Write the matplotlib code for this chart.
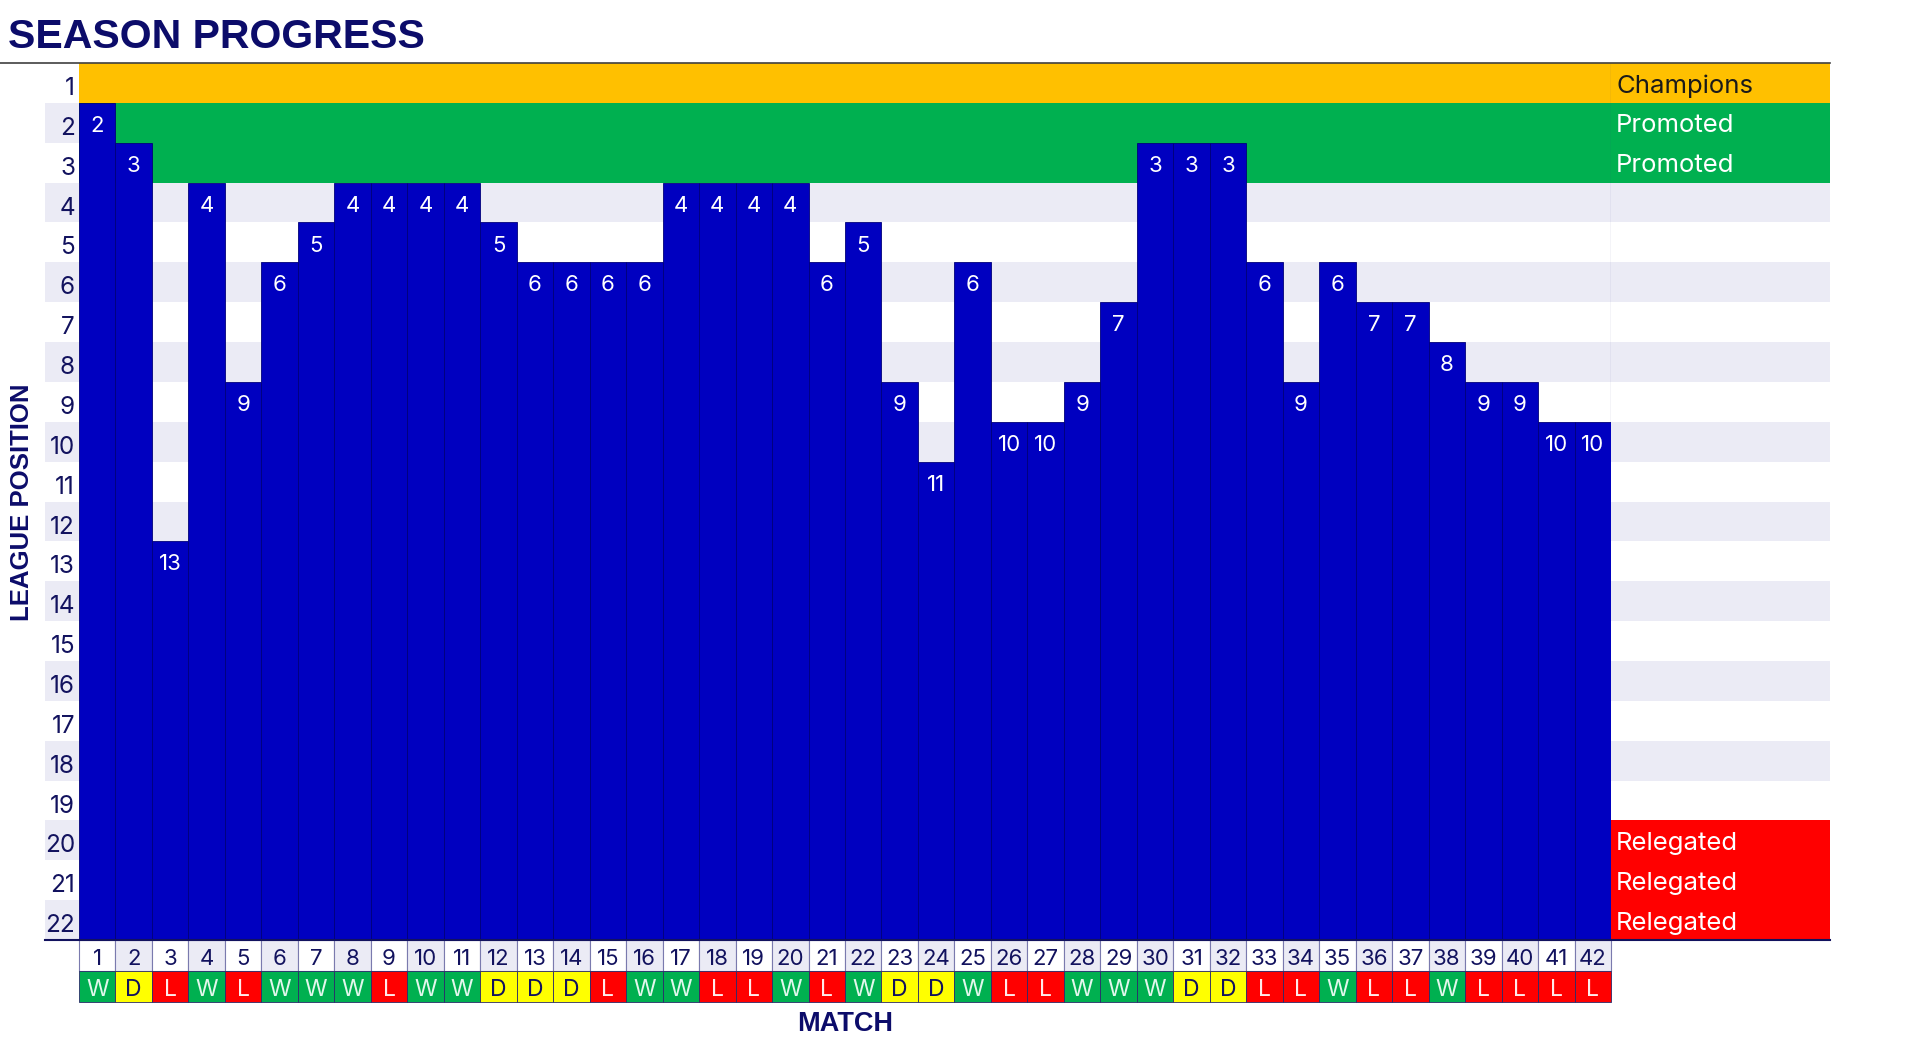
import matplotlib
matplotlib.use('Agg')
import matplotlib.pyplot as plt
import matplotlib.transforms as mtransforms
import numpy as np

# league position after each match
matches = list(range(1, 43))
positions = [2, 3, 13, 4, 9, 6, 5, 4, 4, 4, 4, 5, 6, 6, 6, 6, 4, 4, 4, 4, 6,
             5, 9, 11, 6, 10, 10, 9, 7, 3, 3, 3, 6, 9, 6, 7, 7, 8, 9, 9, 10, 10]
results = ['W', 'D', 'L', 'W', 'L', 'W', 'W', 'W', 'L', 'W', 'W', 'D', 'D', 'D',
           'L', 'W', 'W', 'L', 'L', 'W', 'L', 'W', 'D', 'D', 'W', 'L', 'L', 'W',
           'W', 'W', 'D', 'D', 'L', 'L', 'W', 'L', 'L', 'W', 'L', 'L', 'L', 'L']
n_teams = 22
zone_labels = {1: 'Champions', 2: 'Promoted', 3: 'Promoted',
               20: 'Relegated', 21: 'Relegated', 22: 'Relegated'}

NAVY = '#12125E'
BAR = '#0000C0'
LAV = '#EBEBF5'
GOLD = '#FFC000'
GREEN = '#00B050'
RED = '#FF0000'
YELLOW = '#FFFF00'
res_col = {'W': GREEN, 'D': YELLOW, 'L': RED}
res_txt = {'W': '#E2F7EC', 'D': NAVY, 'L': '#FFEAEA'}

plt.rcParams['font.family'] = ['Inter', 'DejaVu Sans']

W, H = 1919, 1041
fig = plt.figure(figsize=(W / 100, H / 100), dpi=100)
fig.patch.set_facecolor('white')
ax = fig.add_axes([79 / W, 1 - 940 / H, (1611 - 79) / W, (940 - 63) / H])
ax.set_xlim(0.5, 42.5)
ax.set_ylim(n_teams + 0.5, 0.5)
ax.patch.set_visible(False)

x_left = 0.5 - (79 - 45) / 36.48
x_right = 42.5 + (1830 - 1611) / 36.48
rows = np.arange(1, n_teams + 1)
dy = 0.08  # small downward nudge for text

# background stripes
for r in rows:
    if r == 1:
        ax.barh(r, x_right - 0.5, left=0.5, height=1, color=GOLD, clip_on=False, zorder=0)
    elif r in (2, 3):
        ax.barh(r, x_right - 0.5, left=0.5, height=1, color=GREEN, clip_on=False, zorder=0)
        if r % 2 == 0:
            ax.barh(r, 0.5 - x_left, left=x_left, height=1, color=LAV, clip_on=False, zorder=0)
    elif r >= 20:
        ax.barh(r, x_right - 42.5, left=42.5, height=1, color=RED, clip_on=False, zorder=0)
        if r % 2 == 0:
            ax.barh(r, 42.5 - x_left, left=x_left, height=1, color=LAV, clip_on=False, zorder=0)
    elif r % 2 == 0:
        ax.barh(r, x_right - x_left, left=x_left, height=1, color=LAV, clip_on=False, zorder=0)

# position bars
pos = np.array(positions)
ax.bar(matches, n_teams + 0.5 - (pos - 0.5), bottom=pos - 0.5, width=1,
       color=BAR, edgecolor='#00007A', linewidth=0.6, zorder=2)
for m, p in zip(matches, positions):
    ax.text(m, p + dy, str(p), ha='center', va='center', color='white', fontsize=16, zorder=3)

# zone labels
for r, lab in zone_labels.items():
    ax.text(42.5 + 0.14, r + dy, lab, ha='left', va='center', fontsize=18.5,
            color='#1A1A1A' if lab == 'Champions' else 'white', zorder=3)
ax.plot([42.5, 42.5], [0.5, 19.5], color='#3A3A8A', lw=0.8, zorder=1)

# row numbers on the left
lab_tr = ax.transData + mtransforms.ScaledTranslation(-4 / 100, 0, fig.dpi_scale_trans)
for r in rows:
    ax.text(0.5, r + 0.14, str(r), ha='right', va='center', fontsize=17.5,
            color=NAVY, transform=lab_tr, clip_on=False, zorder=3)

# match number and result rows
h1 = 0.775
h2 = 0.78
num_bg = ['white' if m % 2 else LAV for m in matches]
ax.bar(matches, h1, bottom=n_teams + 0.5, width=1, color=num_bg,
       edgecolor='#7A7AAE', linewidth=0.8, clip_on=False, zorder=2)
ax.bar(matches, h2, bottom=n_teams + 0.5 + h1, width=1, color=[res_col[r] for r in results],
       edgecolor='#2B2B6B', linewidth=0.6, clip_on=False, zorder=2)
for m, r in zip(matches, results):
    ax.text(m, n_teams + 0.5 + h1 / 2 + dy, str(m), ha='center', va='center',
            fontsize=16, color=NAVY, clip_on=False, zorder=3)
    ax.text(m, n_teams + 0.5 + h1 + h2 / 2 + dy, r, ha='center', va='center',
            fontsize=16.5, color=res_txt[r], clip_on=False, zorder=3)

ax.set_xticks([])
ax.set_yticks([])
for s in ax.spines.values():
    s.set_visible(False)

# frame lines
fig.add_artist(plt.Line2D([0, 1830 / W], [1 - 63 / H, 1 - 63 / H], color='#404040', lw=1.2))
fig.add_artist(plt.Line2D([45 / W, 1830 / W], [1 - 940 / H, 1 - 940 / H], color=NAVY, lw=1.5))

fig.text(8 / W, 1 - 37 / H, 'SEASON PROGRESS', fontsize=29.5, fontweight='bold',
         color='#0C0C6A', va='center', ha='left', family=['Liberation Sans', 'DejaVu Sans'])
fig.text(845 / W, 1 - 1024 / H, 'MATCH', fontsize=19.5, fontweight='bold', color='#0C0C6A',
         ha='center', va='center', family=['Liberation Sans', 'DejaVu Sans'])
fig.text(22 / W, 1 - 502 / H, 'LEAGUE POSITION', fontsize=18.5, fontweight='bold',
         color='#0C0C6A', ha='center', va='center', rotation=90,
         family=['Liberation Sans', 'DejaVu Sans'])

fig.savefig('out.png', dpi=100)
